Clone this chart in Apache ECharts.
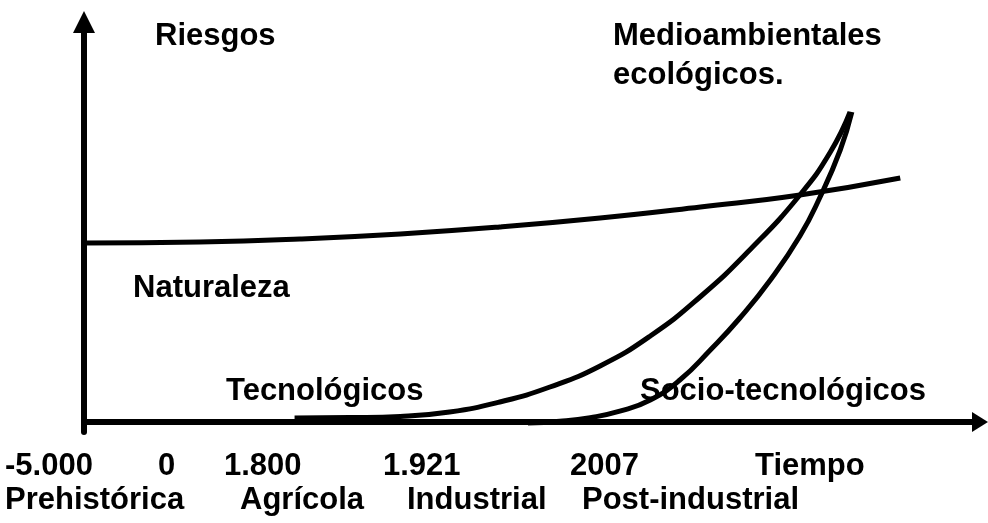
<!DOCTYPE html>
<html>
<head>
<meta charset="utf-8">
<title>Riesgos</title>
<script src="https://cdn.jsdelivr.net/npm/echarts@6/dist/echarts.min.js"></script>
<style>
    html, body { margin: 0; padding: 0; background: #fff; }
    #chart { width: 988px; height: 523px; }
</style>
</head>
<body>
<div id="chart"></div>
<script>
    // curvas (x: 0-100 tiempo, y: 0-100 riesgo)
    const naturalezaX = [0, 12.9, 24.1, 35.3, 46.4, 57.6, 68.8, 79.9, 91.1];
    const naturalezaY = [44.75, 45, 45.75, 47, 48.75, 51, 53.75, 56.75, 61];

    const tecnoX = [23.5, 29.7, 35.3, 40.8, 46.4, 52.0, 57.6, 63.2, 68.75, 74.3, 79.9, 83.3, 85.5];
    const tecnoY = [1, 1.1, 1.4, 2.5, 5, 8.75, 14, 21.5, 31.25, 43, 56.75, 67.5, 77.5];

    const socioX = [49.55, 53.1, 56.5, 59.8, 63.2, 66.5, 69.9, 73.2, 76.6, 79.9, 82.1, 84.4, 85.7];
    const socioY = [-0.25, 0.2, 1.1, 2.7, 5.5, 10.5, 18, 26, 35.5, 46.5, 56, 68, 77.5];

    // textos
    const yearLabels = ["-5.000", "0", "1.800", "1.921", "2007", "Tiempo"];
    const eraLabels = ["Prehistórica", "Agrícola", "Industrial", "Post-industrial"];
    const curveLabels = ["Riesgos", "Medioambientales", "ecológicos.", "Naturaleza", "Tecnológicos", "Socio-tecnológicos"];

    // posiciones de los textos (px)
    const yearLeft = [5, 158, 224, 383, 570, 755];
    const eraLeft = [5, 240, 407, 582];
    const curvePos = [[155, 39], [613, 39], [613, 78], [133, 291], [226, 394], [640, 394]];

    const zip = (xs, ys) => xs.map((x, i) => [x, ys[i]]);

    const font = "bold 31px 'Liberation Sans', Arial, sans-serif";
    const textEl = (text, left, y) => ({
        type: "text",
        left: left,
        top: y - 18,
        style: { text: text, font: font, fill: "#000" }
    });

    const chart = echarts.init(document.getElementById("chart"));
    const lineStyle = { color: "#000", width: 5 };

    const option = {
        animation: false,
        grid: { left: 84, top: 22, width: 896, height: 410 },
        xAxis: {
            type: "value",
            min: 0,
            max: 100,
            axisLine: {
                onZero: true,
                symbol: ["none", "triangle"],
                symbolSize: [20, 16],
                lineStyle: { color: "#000", width: 6 }
            },
            axisTick: { show: false },
            axisLabel: { show: false },
            splitLine: { show: false }
        },
        yAxis: {
            type: "value",
            min: -2.5,
            max: 100,
            axisLine: {
                show: true,
                onZero: false,
                symbol: ["none", "triangle"],
                symbolSize: [22, 22],
                lineStyle: { color: "#000", width: 6 }
            },
            axisTick: { show: false },
            axisLabel: { show: false },
            splitLine: { show: false }
        },
        series: [
            { name: "Naturaleza", type: "line", data: zip(naturalezaX, naturalezaY) },
            { name: "Tecnológicos", type: "line", data: zip(tecnoX, tecnoY) },
            { name: "Socio-tecnológicos", type: "line", data: zip(socioX, socioY) }
        ].map(s => Object.assign(s, {
            smooth: 0.5,
            showSymbol: false,
            lineStyle: lineStyle,
            silent: true
        })),
        graphic: [].concat(
            curveLabels.map((t, i) => textEl(t, curvePos[i][0], curvePos[i][1])),
            yearLabels.map((t, i) => textEl(t, yearLeft[i], 469)),
            eraLabels.map((t, i) => textEl(t, eraLeft[i], 503))
        )
    };
    chart.setOption(option);
</script>
</body>
</html>
